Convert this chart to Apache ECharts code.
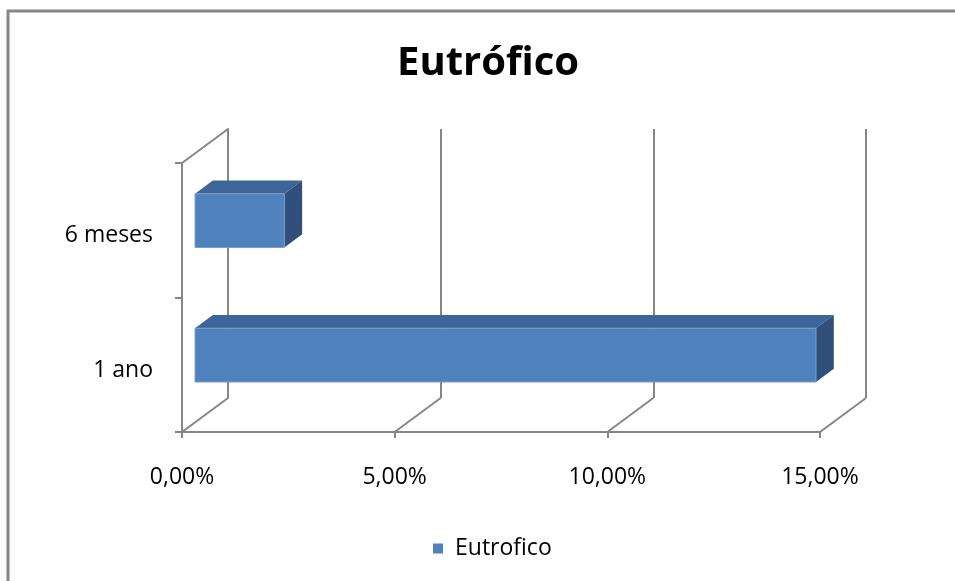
<!DOCTYPE html>
<html>
<head>
<meta charset="utf-8">
<script src="https://cdn.jsdelivr.net/npm/echarts@6/dist/echarts.min.js"></script>
<style>
  html, body { margin: 0; padding: 0; background: #fff; }
  #chart { width: 955px; height: 581px; }
</style>
</head>
<body>
<div id="chart"></div>
<script>
// Chart data
const categories = ['1 ano', '6 meses'];
const seriesName = 'Eutrofico';
const values = [0.146, 0.021];
const xTicks = [0, 0.05, 0.10, 0.15];

// 3D look: depth offset between front plane and back wall (px)
const DX = 46, DY = -34;
const BAR_F0 = 0.283, BAR_F1 = 0.67;   // bar front / back depth fractions
const BAR_SIZE = 0.40;                 // bar thickness as part of band

const GRID_LINE = '#868686';
const FRONT = '#4F81BD', TOP = '#3D6597', SIDE = '#304F7A', EDGE = '#7A9DCB';
const FONT = '"Open Sans", "Liberation Sans", sans-serif';
const LABEL_SIZE = 23;

const pct = v => (v * 100).toFixed(2).replace('.', ',') + '%';

const chart = echarts.init(document.getElementById('chart'), null, { renderer: 'canvas' });

const frontGrid = { left: 182, right: 135, top: 163, bottom: 149 };
const backGrid = {
  left: frontGrid.left + DX, right: frontGrid.right - DX,
  top: frontGrid.top + DY, bottom: frontGrid.bottom - DY
};

chart.setOption({
  animation: false,
  backgroundColor: '#fff',
  title: {
    text: 'Eutrófico',
    left: 392, top: 39,
    textStyle: { fontFamily: FONT, fontWeight: 'bold', fontSize: 40, color: '#000' }
  },
  legend: {
    data: [seriesName],
    left: 428, top: 532,
    icon: 'rect', itemWidth: 10, itemHeight: 10, itemGap: 10,
    textStyle: { fontFamily: FONT, fontSize: LABEL_SIZE, color: '#000', padding: [0, 0, 0, 7] }
  },
  graphic: [{
    type: 'polyline',
    shape: { points: [[8, 581], [8, 11], [955, 11]] },
    style: { stroke: GRID_LINE, lineWidth: 3, fill: null },
    silent: true
  }],
  grid: [
    Object.assign({}, frontGrid),
    Object.assign({}, backGrid)
  ],
  xAxis: [{
    gridIndex: 0, type: 'value', min: 0, max: 0.15, interval: 0.05,
    axisLine: { show: true, lineStyle: { color: GRID_LINE, width: 2 } },
    axisTick: { show: true, length: 6, lineStyle: { color: GRID_LINE, width: 2 } },
    splitLine: { show: false },
    axisLabel: { formatter: pct, margin: 34, fontFamily: FONT, fontSize: LABEL_SIZE, color: '#000' }
  }, {
    gridIndex: 1, type: 'value', min: 0, max: 0.15, interval: 0.05,
    axisLine: { show: false }, axisTick: { show: false }, axisLabel: { show: false },
    splitLine: { show: true, lineStyle: { color: GRID_LINE, width: 2 } }
  }],
  yAxis: [{
    gridIndex: 0, type: 'category', data: categories,
    axisLine: { show: true, lineStyle: { color: GRID_LINE, width: 2 } },
    axisTick: { show: true, length: 7, lineStyle: { color: GRID_LINE, width: 2 } },
    axisLabel: {
      margin: 29, color: '#000',
      formatter: v => '{c|' + v + '}',
      rich: { c: { fontFamily: FONT, fontSize: LABEL_SIZE, color: '#000', padding: [11, 0, 0, 0] } }
    }
  }, {
    gridIndex: 1, type: 'category', data: categories,
    axisLine: { show: true, lineStyle: { color: GRID_LINE, width: 2 } },
    axisTick: { show: false }, axisLabel: { show: false }, splitLine: { show: false }
  }],
  series: [{
    // floor diagonals from each x tick plus the top edge of the side wall
    type: 'custom', xAxisIndex: 0, yAxisIndex: 0, silent: true, z: 1,
    legendHoverLink: false,
    data: xTicks.map(v => [v]).concat([['wall']]),
    renderItem: function (params, api) {
      const cs = params.coordSys;
      const raw = params.dataIndex < xTicks.length ? api.value(0) : null;
      let x0, y0;
      if (raw === null) { x0 = cs.x; y0 = cs.y; }
      else { x0 = api.coord([raw, 0])[0]; y0 = cs.y + cs.height; }
      return {
        type: 'line',
        shape: { x1: x0, y1: y0, x2: x0 + DX, y2: y0 + DY },
        style: { stroke: GRID_LINE, lineWidth: 2 }
      };
    }
  }, {
    name: seriesName,
    type: 'custom', xAxisIndex: 0, yAxisIndex: 0, z: 5,
    itemStyle: { color: FRONT },
    data: values.map((v, i) => [v, i]),
    renderItem: function (params, api) {
      const start = api.coord([0, api.value(1)]);
      const end = api.coord([api.value(0), api.value(1)]);
      const band = api.size([0, 1])[1];
      const h = band * BAR_SIZE;
      const ox = DX * BAR_F0, oy = DY * BAR_F0;
      const dx = DX * (BAR_F1 - BAR_F0), dy = DY * (BAR_F1 - BAR_F0);
      const x0 = start[0] + ox, x1 = end[0] + ox;
      const yt = start[1] + oy - h / 2, yb = yt + h;
      return {
        type: 'group',
        children: [{
          type: 'polygon',
          shape: { points: [[x0, yt], [x1, yt], [x1 + dx, yt + dy], [x0 + dx, yt + dy]] },
          style: { fill: TOP }
        }, {
          type: 'polygon',
          shape: { points: [[x1, yt], [x1 + dx, yt + dy], [x1 + dx, yb + dy], [x1, yb]] },
          style: { fill: SIDE }
        }, {
          type: 'rect',
          shape: { x: x0, y: yt, width: x1 - x0, height: h },
          style: { fill: FRONT, stroke: EDGE, lineWidth: 1 }
        }]
      };
    }
  }]
});
</script>
</body>
</html>
